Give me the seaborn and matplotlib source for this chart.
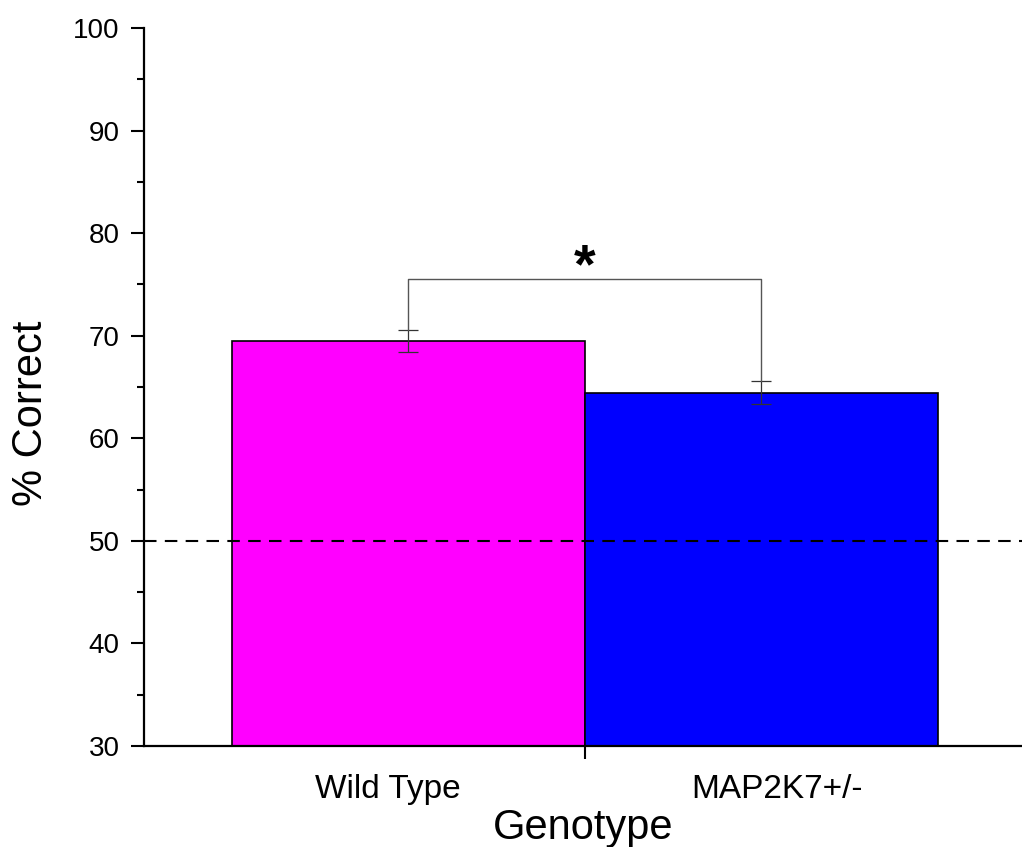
import numpy as np
import pandas as pd
import seaborn as sns
import matplotlib.pyplot as plt
import matplotlib.transforms as mtransforms
from matplotlib.ticker import MultipleLocator, FixedLocator

# values
genotypes = ["Wild Type", "MAP2K7+/-"]
pct_correct = [69.5, 64.45]
sem = [1.1, 1.15]
bar_colors = ["#FF00FF", "#0000FF"]
chance_level = 50
sig_level = 75.5
sig_label = "*"

df = pd.DataFrame({"Genotype": genotypes, "Correct": pct_correct, "SEM": sem})

sns.set_theme(style="ticks")
plt.rcParams['font.family'] = ['Liberation Sans', 'DejaVu Sans']
plt.rcParams['text.color'] = 'black'
plt.rcParams['axes.labelcolor'] = 'black'
plt.rcParams['xtick.labelcolor'] = 'black'
plt.rcParams['ytick.labelcolor'] = 'black'

fig = plt.figure(figsize=(10.22, 8.47), dpi=100)
ax = fig.add_axes([0.1409, 0.1192, 0.8591, 0.8477])

sns.barplot(data=df, x="Genotype", y="Correct", hue="Genotype",
            palette=bar_colors, saturation=1, width=1.0, errorbar=None,
            legend=False, edgecolor="black", linewidth=1.2, ax=ax, zorder=2)

# error bars (SEM)
xpos = np.arange(len(genotypes))
ax.errorbar(xpos, df["Correct"], yerr=df["SEM"], fmt="none",
            ecolor="#333333", elinewidth=0.9, capsize=7, capthick=0.9, zorder=3)

# chance line
ax.axhline(chance_level, color="black", linestyle=(0, (6, 4)), linewidth=1.5, zorder=4)

# significance bracket
tops = df["Correct"] + df["SEM"]
ax.plot([xpos[0], xpos[0], xpos[1], xpos[1]],
        [tops[0], sig_level, sig_level, tops[1]],
        color="#555555", linewidth=1.0, zorder=3)
ax.text(xpos.mean(), sig_level - 0.3, sig_label, ha="center", va="baseline",
        fontsize=40, fontweight="bold")

ax.set_ylim(30, 100)
ax.set_xlim(-0.749, 1.738)
ax.yaxis.set_major_locator(MultipleLocator(10))
ax.yaxis.set_minor_locator(MultipleLocator(5))
ax.xaxis.set_minor_locator(FixedLocator([0.5]))

sns.despine(ax=ax)
for side in ["left", "bottom"]:
    ax.spines[side].set_linewidth(1.6)
    ax.spines[side].set_color("black")

ax.tick_params(axis="y", which="major", direction="out", length=9.5, width=1.5,
               labelsize=20, pad=8, color="black")
ax.tick_params(axis="y", which="minor", direction="out", length=5, width=1.5,
               color="black", left=True)
ax.tick_params(axis="x", which="major", length=0, labelsize=24, pad=20)
ax.tick_params(axis="x", which="minor", direction="out", length=9.5, width=1.5,
               color="black", bottom=True)

# category labels sit a little off the bar centres in the original
for lab, dx in zip(ax.get_xticklabels(), [-21, 16]):
    lab.set_transform(lab.get_transform() +
                      mtransforms.ScaledTranslation(dx / 100, 0, fig.dpi_scale_trans))

ax.set_xlabel("Genotype", fontsize=30)
ax.set_ylabel("% Correct", fontsize=30)
ax.xaxis.set_label_coords(0.5, -0.086)
ax.yaxis.set_label_coords(-0.106, 0.463)

fig.savefig("out.png", dpi=100)
